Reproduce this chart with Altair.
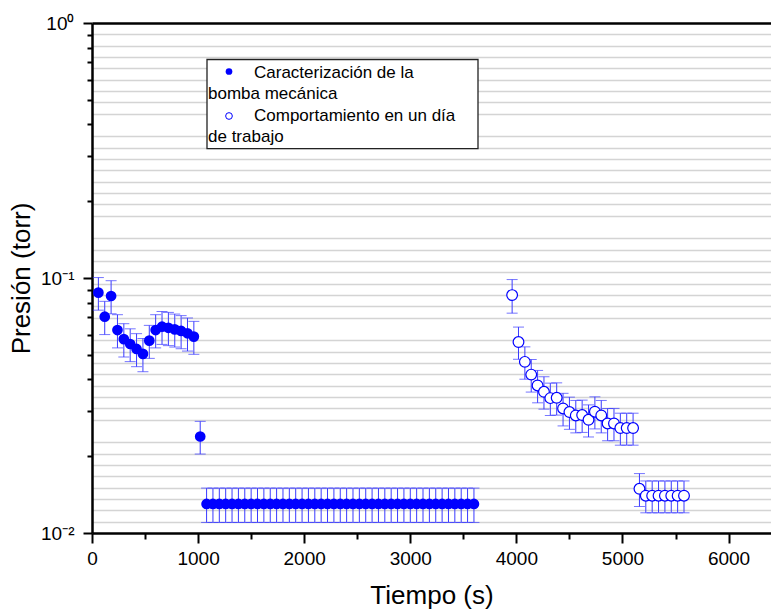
import altair as alt
import pandas as pd

# ---- Data ----
# Serie 1: Caracterización de la bomba mecánica (filled markers)
t_bomba = [60, 120, 180, 240, 300, 360, 420, 480, 540, 600, 660, 720, 780, 840, 900, 960, 1020,
           1080, 1140, 1200, 1260, 1320, 1380, 1440, 1500, 1560, 1620, 1680, 1740, 1800, 1860,
           1920, 1980, 2040, 2100, 2160, 2220, 2280, 2340, 2400, 2460, 2520, 2580, 2640, 2700,
           2760, 2820, 2880, 2940, 3000, 3060, 3120, 3180, 3240, 3300, 3360, 3420, 3480, 3540, 3600]
p_bomba = [0.0876, 0.0705, 0.0850, 0.0625, 0.0576, 0.0551, 0.0527, 0.0504, 0.0568, 0.0625,
           0.0644, 0.0638, 0.0629, 0.0620, 0.0607, 0.0589, 0.0239,
           0.013, 0.013, 0.013, 0.013, 0.013, 0.013, 0.013, 0.013, 0.013, 0.013, 0.013, 0.013,
           0.013, 0.013, 0.013, 0.013, 0.013, 0.013, 0.013, 0.013, 0.013, 0.013, 0.013, 0.013,
           0.013, 0.013, 0.013, 0.013, 0.013, 0.013, 0.013, 0.013, 0.013, 0.013, 0.013, 0.013,
           0.013, 0.013, 0.013, 0.013, 0.013, 0.013, 0.013]
e_bomba = [0.0128, 0.0105, 0.0126, 0.0093, 0.0086, 0.0081, 0.0078, 0.0075, 0.0084, 0.0093,
           0.0095, 0.0095, 0.0093, 0.0092, 0.0090, 0.0087, 0.0035,
           0.002, 0.002, 0.002, 0.002, 0.002, 0.002, 0.002, 0.002, 0.002, 0.002, 0.002, 0.002,
           0.002, 0.002, 0.002, 0.002, 0.002, 0.002, 0.002, 0.002, 0.002, 0.002, 0.002, 0.002,
           0.002, 0.002, 0.002, 0.002, 0.002, 0.002, 0.002, 0.002, 0.002, 0.002, 0.002, 0.002,
           0.002, 0.002, 0.002, 0.002, 0.002, 0.002, 0.002]

# Serie 2: Comportamiento en un día de trabajo (open markers)
t_dia = [3960, 4020, 4080, 4140, 4200, 4260, 4320, 4380, 4440, 4500, 4560, 4620, 4680, 4740,
         4800, 4860, 4920, 4980, 5040, 5100, 5160, 5220, 5280, 5340, 5400, 5460, 5520, 5580]
p_dia = [0.0857, 0.0561, 0.0469, 0.0418, 0.0379, 0.0358, 0.0338, 0.0339, 0.0308, 0.0298,
         0.0289, 0.0290, 0.0278, 0.0299, 0.0289, 0.0269, 0.0269, 0.0258, 0.0258, 0.0258,
         0.0149, 0.014, 0.014, 0.014, 0.014, 0.014, 0.014, 0.014]
e_dia = [0.0129, 0.0081, 0.0068, 0.0061, 0.0055, 0.0052, 0.0049, 0.0049, 0.0045, 0.0043,
         0.0042, 0.0042, 0.0040, 0.0043, 0.0042, 0.0039, 0.0039, 0.0037, 0.0037, 0.0037,
         0.0022, 0.002, 0.002, 0.002, 0.002, 0.002, 0.002, 0.002]

x_major = [0, 1000, 2000, 3000, 4000, 5000, 6000]
x_minor = [500, 1500, 2500, 3500, 4500, 5500]
y_major = [0.01, 0.1, 1]
y_minor = [0.02, 0.03, 0.04, 0.05, 0.06, 0.07, 0.08, 0.09,
           0.2, 0.3, 0.4, 0.5, 0.6, 0.7, 0.8, 0.9]
# decorative background grid (evenly spaced lines, 8 per block of 5 blocks)
grid_vals = [10 ** (-2 + 2 * (k + j / 9) / 5) for k in range(5) for j in range(1, 9)]

df_b = pd.DataFrame({"t": t_bomba, "p": p_bomba, "e": e_bomba})
df_b["lo"] = df_b["p"] - df_b["e"]
df_b["hi"] = df_b["p"] + df_b["e"]
df_d = pd.DataFrame({"t": t_dia, "p": p_dia, "e": e_dia})
df_d["lo"] = df_d["p"] - df_d["e"]
df_d["hi"] = df_d["p"] + df_d["e"]
df_all = pd.concat([df_b, df_d], ignore_index=True)

FONT = "Liberation Sans"
BLUE = "#0000ff"
EBLUE = "#3a3aff"

xs = alt.Scale(domain=[0, 6400], nice=False, zero=False)
ys = alt.Scale(type="log", domain=[0.01, 1], nice=False)

common_axis = dict(labelFont=FONT, titleFont=FONT, labelColor="black", titleColor="black",
                   domainColor="black", tickColor="black")

grid_layer = alt.Chart(df_all).mark_point(opacity=0).encode(
    x=alt.X("t:Q", scale=xs, axis=None),
    y=alt.Y("p:Q", scale=ys, axis=alt.Axis(orient="left", values=grid_vals, grid=True,
                                          gridColor="#d4d4d4", gridWidth=1.3, ticks=False,
                                          labels=False, domain=False, title=None)),
)

minor_layer = alt.Chart(df_all).mark_point(opacity=0).encode(
    x=alt.X("t:Q", scale=xs, axis=alt.Axis(orient="bottom", values=x_minor, grid=False,
                                          labels=False, domain=False, ticks=True, tickSize=6,
                                          tickWidth=2, tickColor="black", title=None)),
    y=alt.Y("p:Q", scale=ys, axis=alt.Axis(orient="left", values=y_minor, grid=False,
                                          labels=False, domain=False, ticks=True, tickSize=5,
                                          tickWidth=2, tickColor="black", title=None)),
)

top_layer = alt.Chart(df_all).mark_point(opacity=0).encode(
    x=alt.X("t:Q", scale=xs, axis=alt.Axis(orient="top", values=x_major, grid=False,
                                          labels=False, ticks=False, domain=True,
                                          domainWidth=2.5, domainColor="black", title=None)),
    y=alt.Y("p:Q", scale=ys, axis=None),
)

err_rules = alt.Chart(df_all).mark_rule(color=EBLUE, strokeWidth=1).encode(
    x=alt.X("t:Q", scale=xs, axis=alt.Axis(
        orient="bottom", values=x_major, grid=False, format="d", title="Tiempo (s)",
        labelFontSize=19, titleFontSize=26, titleFontWeight="normal", tickSize=10,
        tickWidth=2, domainWidth=2.5, labelPadding=6, titlePadding=14, labelFlush=False,
        **common_axis)),
    y=alt.Y("lo:Q", scale=ys, axis=alt.Axis(
        orient="left", values=y_major, grid=False, title="Presión (torr)",
        labelExpr="datum.value >= 0.5 ? '10⁰' : (datum.value >= 0.05 ? '10⁻¹' : '10⁻²')",
        labelFontSize=19, titleFontSize=26, titleFontWeight="normal", tickSize=9,
        tickWidth=2, domainWidth=2.5, labelPadding=9, titlePadding=6, labelFlush=False,
        **common_axis)),
    y2="hi:Q",
)

cap_lo = alt.Chart(df_all).mark_tick(orient="horizontal", size=11, thickness=1, color=EBLUE).encode(
    x=alt.X("t:Q", scale=xs, axis=None), y=alt.Y("lo:Q", scale=ys, axis=None))
cap_hi = alt.Chart(df_all).mark_tick(orient="horizontal", size=11, thickness=1, color=EBLUE).encode(
    x=alt.X("t:Q", scale=xs, axis=None), y=alt.Y("hi:Q", scale=ys, axis=None))

pts_b = alt.Chart(df_b).mark_point(shape="circle", filled=True, size=115, color=BLUE, opacity=1).encode(
    x=alt.X("t:Q", scale=xs, axis=None), y=alt.Y("p:Q", scale=ys, axis=None))
pts_d = alt.Chart(df_d).mark_point(shape="circle", filled=False, fill="white", fillOpacity=1,
                                   size=115, stroke=BLUE, strokeWidth=1.2, opacity=1).encode(
    x=alt.X("t:Q", scale=xs, axis=None), y=alt.Y("p:Q", scale=ys, axis=None))

# ---- legend (annotation) ----
one = pd.DataFrame({"k": [0]})
leg_box = alt.Chart(one).mark_rect(fill="white", stroke="#222222", strokeWidth=1.3).encode(
    x=alt.value(115), x2=alt.value(386), y=alt.value(36.5), y2=alt.value(125.6))
leg_s1 = alt.Chart(one).mark_point(shape="circle", filled=True, size=45, color=BLUE, opacity=1).encode(
    x=alt.value(137), y=alt.value(48.5))
leg_s2 = alt.Chart(one).mark_point(shape="circle", filled=False, size=45, color=BLUE,
                                   strokeWidth=1, opacity=1).encode(
    x=alt.value(137), y=alt.value(93))


def leg_text(txt, x, y):
    return alt.Chart(one).mark_text(align="left", baseline="alphabetic", font=FONT, fontSize=17,
                                    color="black").encode(
        x=alt.value(x), y=alt.value(y), text=alt.value(txt))


legend = [leg_box, leg_s1, leg_s2,
          leg_text("Caracterización de la", 162, 54.6),
          leg_text("bomba mecánica", 116, 75.8),
          leg_text("Comportamiento en un día", 162, 98.3),
          leg_text("de trabajo", 116, 119.3)]

chart = alt.layer(
    grid_layer, minor_layer, top_layer, err_rules, cap_lo, cap_hi, pts_b, pts_d, *legend
).resolve_axis(x="independent", y="independent").properties(
    width=679, height=510,
    padding={"left": 92, "top": 23, "right": 0, "bottom": 81},
    autosize=alt.AutoSizeParams(type="none"),
    background="white",
).configure_view(stroke=None)

chart.save("out.html", embed_options={"renderer": "svg", "actions": False})
